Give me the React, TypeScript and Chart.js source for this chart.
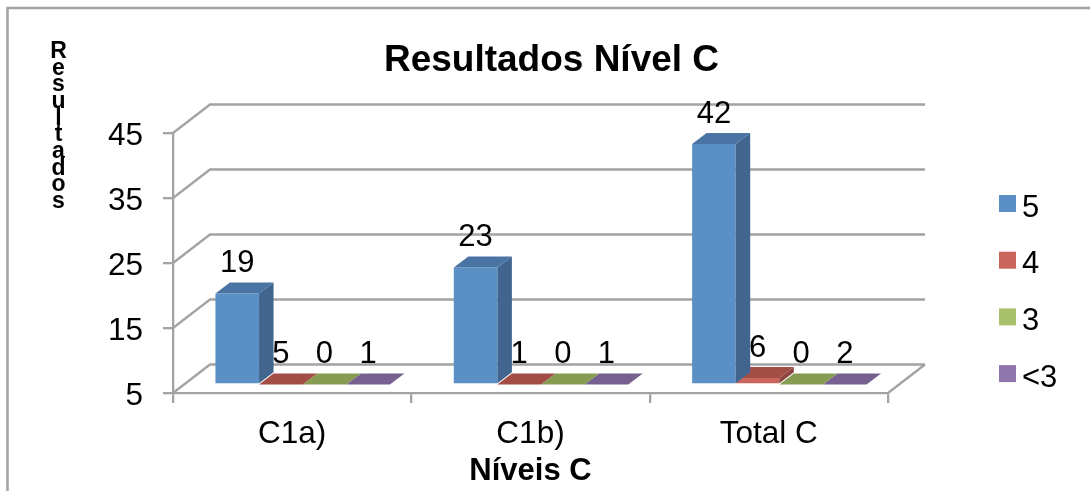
import React, { useEffect, useRef } from "react";
import { Chart, registerables } from "chart.js";

Chart.register(...registerables);

const categories = ["C1a)", "C1b)", "Total C"];
const seriesNames = ["5", "4", "3", "<3"];
const values5 = [19, 23, 42];
const values4 = [5, 1, 6];
const values3 = [0, 0, 0];
const valuesLt3 = [1, 1, 2];
const yTicksMin = 5;
const yTicksMax = 45;
const yStep = 10;
const chartTitle = "Resultados Nível C";
const xTitle = "Níveis C";
const yTitle = "Resultados";

const FRONT = ["#5b90c6", "#c9655d", "#a8c26c", "#8f76ad"];
const TOP = ["#4a74a3", "#a34d47", "#879c52", "#75608f"];
const SIDE = ["#41658f", "#8e443f", "#76884a", "#66527d"];
const GRID = "#a3a3a3";
const FONT = "'Liberation Sans', Arial, sans-serif";
const WALL_DX = 37;
const WALL_DY = 28.5;
const BAR_DX = 10.5;
const BAR_DY = -8.5;
const DEPTH_DX = 14.5;
const DEPTH_DY = 11;

const clampMin = (a: number[]) => a.map((v) => Math.max(v, yTicksMin));

const wallPlugin = {
  id: "wall3d",
  beforeDatasetsDraw(chart: any) {
    const { ctx, scales } = chart;
    const { left, right, bottom } = chart.chartArea;
    ctx.save();
    // outer frame
    ctx.strokeStyle = GRID;
    ctx.lineWidth = 2.5;
    ctx.beginPath();
    ctx.moveTo(7.5, 491);
    ctx.lineTo(7.5, 8);
    ctx.lineTo(1090, 8);
    ctx.stroke();
    // walls
    ctx.strokeStyle = GRID;
    ctx.lineWidth = 2.3;
    scales.y.ticks.forEach((t: any) => {
      const y = scales.y.getPixelForValue(t.value);
      ctx.beginPath();
      ctx.moveTo(left, y);
      ctx.lineTo(left + WALL_DX, y - WALL_DY);
      ctx.lineTo(right + WALL_DX, y - WALL_DY);
      ctx.stroke();
    });
    ctx.beginPath();
    ctx.moveTo(right, bottom);
    ctx.lineTo(right + WALL_DX, bottom - WALL_DY);
    ctx.stroke();
    ctx.restore();
    // bars sit in the middle of the floor's depth
    ctx.save();
    ctx.translate(BAR_DX, BAR_DY);
  },
  afterDatasetDraw(chart: any, args: any) {
    const { ctx } = chart;
    const i = args.index;
    args.meta.data.forEach((el: any) => {
      const l = el.x - el.width / 2;
      const r = el.x + el.width / 2;
      const t = el.y;
      const b = el.base;
      ctx.fillStyle = TOP[i];
      ctx.beginPath();
      ctx.moveTo(l, t);
      ctx.lineTo(r, t);
      ctx.lineTo(r + DEPTH_DX, t - DEPTH_DY);
      ctx.lineTo(l + DEPTH_DX, t - DEPTH_DY);
      ctx.closePath();
      ctx.fill();
      if (b - t > 0.5) {
        ctx.fillStyle = SIDE[i];
        ctx.beginPath();
        ctx.moveTo(r, t);
        ctx.lineTo(r + DEPTH_DX, t - DEPTH_DY);
        ctx.lineTo(r + DEPTH_DX, b - DEPTH_DY);
        ctx.lineTo(r, b);
        ctx.closePath();
        ctx.fill();
      }
    });
  },
  afterDatasetsDraw(chart: any) {
    chart.ctx.restore();
  },
  afterDraw(chart: any) {
    const { ctx, data } = chart;
    ctx.save();
    // value labels
    ctx.fillStyle = "#000";
    ctx.font = `31px ${FONT}`;
    ctx.textAlign = "center";
    ctx.textBaseline = "alphabetic";
    data.datasets.forEach((ds: any, i: number) => {
      chart.getDatasetMeta(i).data.forEach((el: any, j: number) => {
        ctx.fillText(String(ds.rawValues[j]), el.x + BAR_DX, el.y + BAR_DY - 21.5);
      });
    });
    // stacked axis title
    ctx.font = `bold 23px ${FONT}`;
    yTitle.split("").forEach((ch, k) => {
      ctx.fillText(ch, 58.5, 58 + k * 16.65);
    });
    // legend
    ctx.textAlign = "left";
    ctx.font = `31px ${FONT}`;
    data.datasets.forEach((ds: any, i: number) => {
      const y = 195 + i * 56.7;
      ctx.fillStyle = FRONT[i];
      ctx.fillRect(999, y, 17, 17);
      ctx.fillStyle = "#000";
      ctx.fillText(ds.label, 1022, y + 21.5);
    });
    ctx.restore();
  },
};

export default function App() {
  const ref = useRef<HTMLCanvasElement | null>(null);
  useEffect(() => {
    document.body.style.margin = "0";
    const tickFont = { family: FONT, size: 31.5 };
    const allSeries = [values5, values4, values3, valuesLt3];
    const chart = new Chart(ref.current as HTMLCanvasElement, {
      type: "bar",
      data: {
        labels: categories,
        datasets: allSeries.map((vals, i) => ({
          label: seriesNames[i],
          data: clampMin(vals),
          rawValues: vals,
          base: yTicksMin,
          backgroundColor: FRONT[i],
          barPercentage: 1,
          categoryPercentage: 0.732,
          clip: false,
        })) as any,
      },
      options: {
        animation: false,
        responsive: false,
        layout: { padding: { left: 13, right: 0, top: 0, bottom: 0 } },
        plugins: {
          legend: { display: false },
          tooltip: { enabled: false },
          title: {
            display: true,
            text: chartTitle,
            color: "#000",
            font: { family: FONT, size: 37, weight: "bold" },
            padding: { top: 38.5, bottom: 50.1 },
          },
        },
        scales: {
          x: {
            grid: { offset: true, drawOnChartArea: false, color: GRID, lineWidth: 2.3, tickLength: 10 },
            border: { color: GRID, width: 2.3 },
            ticks: { color: "#000", font: tickFont, padding: 12, autoSkip: false, maxRotation: 0 },
            title: {
              display: true,
              text: xTitle,
              color: "#000",
              font: { family: FONT, size: 31, weight: "bold" },
              padding: { top: 0, bottom: 1 },
            },
            afterFit(s: any) {
              s.height = 98;
            },
          },
          y: {
            min: yTicksMin,
            max: yTicksMax,
            grid: { drawOnChartArea: false, color: GRID, lineWidth: 2.3, tickLength: 10 },
            border: { color: GRID, width: 2.3 },
            ticks: { color: "#000", font: tickFont, stepSize: yStep, padding: 20, labelOffset: 3 },
            afterFit(s: any) {
              s.width = 160;
            },
          },
          spacer: {
            type: "linear",
            axis: "y",
            position: "right",
            display: true,
            grid: { display: false },
            border: { display: false },
            ticks: { display: false },
            afterFit(s: any) {
              s.width = 202;
            },
          },
        },
      } as any,
      plugins: [wallPlugin],
    });
    return () => chart.destroy();
  }, []);
  return (
    <div style={{ width: 1090, height: 491, overflow: "hidden" }}>
      <canvas ref={ref} width={1090} height={491} style={{ display: "block" }} />
    </div>
  );
}
